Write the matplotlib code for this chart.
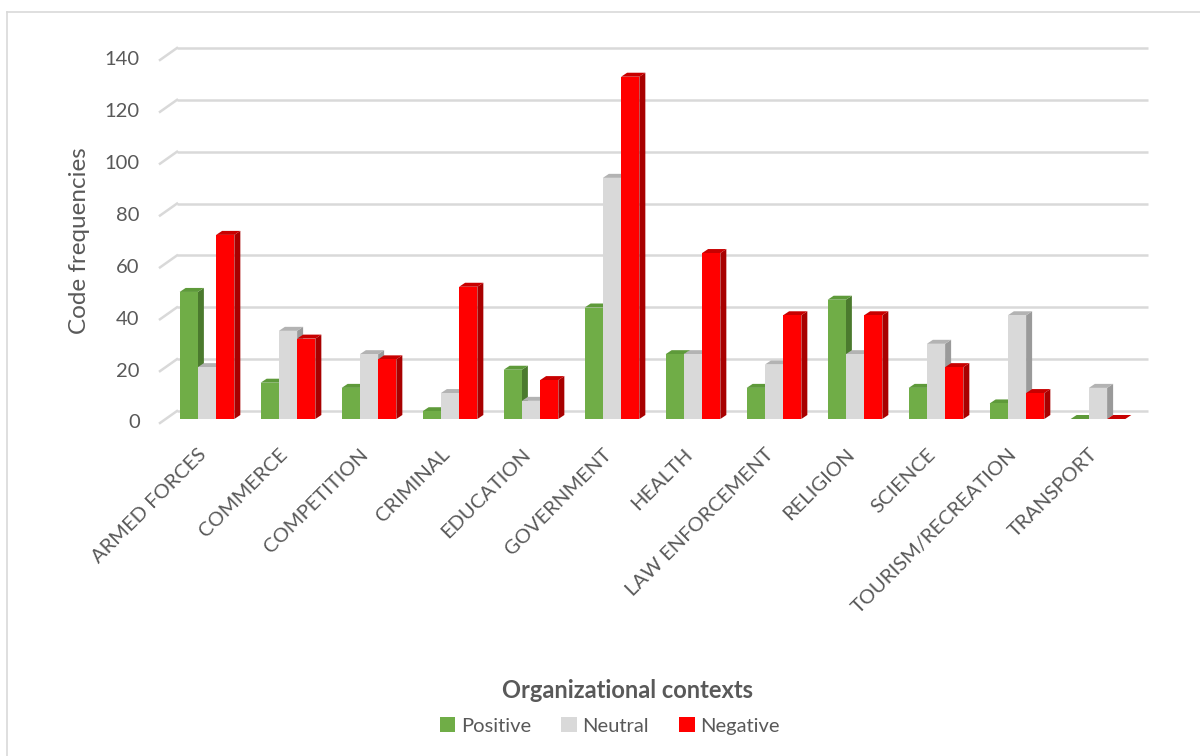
import matplotlib
matplotlib.use("Agg")
import matplotlib.pyplot as plt
from matplotlib.patches import Polygon, Patch
from matplotlib.lines import Line2D

plt.rcParams['font.family'] = ['Lato', 'DejaVu Sans']

# données
categories = ['ARMED FORCES', 'COMMERCE', 'COMPETITION', 'CRIMINAL', 'EDUCATION',
              'GOVERNMENT', 'HEALTH', 'LAW ENFORCEMENT', 'RELIGION', 'SCIENCE',
              'TOURISM/RECREATION', 'TRANSPORT']
positive = [49, 14, 12, 3, 19, 43, 25, 12, 46, 12, 6, 0]
neutral = [20, 34, 25, 10, 7, 93, 25, 21, 25, 29, 40, 12]
negative = [71, 31, 23, 51, 15, 132, 64, 40, 40, 20, 10, 0]
series_names = ['Positive', 'Neutral', 'Negative']
y_ticks = [0, 20, 40, 60, 80, 100, 120, 140]

# couleurs façon Excel 3D : face, côté, dessus
colors = {
    'Positive': ('#70ad47', '#4b7a2e', '#5e9a3a'),
    'Neutral': ('#d9d9d9', '#9a9a9a', '#b3b3b3'),
    'Negative': ('#ff0000', '#a80000', '#c80000'),
}
text_col = '#595959'
grid_col = '#d9d9d9'

W, H = 1200, 756
fig = plt.figure(figsize=(12, 7.56), dpi=100)

# axes placés en pixels : x = index de catégorie, y = valeur
px_left, px_right, px_top, px_bot = 150, 1160, 30, 440
ax = fig.add_axes([px_left / W, 1 - px_bot / H, (px_right - px_left) / W, (px_bot - px_top) / H])
x_c0, x_step = 207, 81.0      # centre du premier groupe, pas entre groupes (px)
base_px, unit_px = 419, 2.593  # base des barres, pixels par unité
ax.set_xlim((px_left - x_c0) / x_step, (px_right - x_c0) / x_step)
ax.set_ylim((base_px - px_bot) / unit_px, (base_px - px_top) / unit_px)
ax.axis('off')

# profondeur 3D
dx = 6 / x_step
dy = 4 / unit_px
back_dy = 8 / unit_px
front_dy = -4 / unit_px
x_front_left = (160 - x_c0) / x_step
x_back_left = (177 - x_c0) / x_step
x_back_right = (1148 - x_c0) / x_step

# grille (mur du fond + diagonales à gauche)
for v in y_ticks:
    ax.plot([x_back_left, x_back_right], [v + back_dy, v + back_dy], color=grid_col, lw=1.8, zorder=0,
            solid_capstyle='butt')
    ax.plot([x_front_left, x_back_left], [v + front_dy, v + back_dy], color=grid_col, lw=1.8, zorder=0)
    ax.text(x_front_left - 0.25, v + front_dy, str(v), ha='right', va='center', fontsize=14.5,
            color=text_col, clip_on=False)

# barres 3D
bw = 0.225
data = [positive, neutral, negative]
for i in range(len(categories)):
    for j, (name, vals) in enumerate(zip(series_names, data)):
        v = vals[i]
        x0 = i + (j - 1.5) * bw
        x1 = x0 + bw
        face, side, top = colors[name]
        z = 2 + i * 10 + j
        ax.add_patch(Polygon([(x1, 0), (x1 + dx, dy), (x1 + dx, v + dy), (x1, v)],
                             closed=True, facecolor=side, edgecolor='none', zorder=z))
        ax.add_patch(Polygon([(x0, v), (x0 + dx, v + dy), (x1 + dx, v + dy), (x1, v)],
                             closed=True, facecolor=top, edgecolor='none', zorder=z))
        if v > 0:
            ax.add_patch(Polygon([(x0, 0), (x1, 0), (x1, v), (x0, v)],
                                 closed=True, facecolor=face, edgecolor='none', zorder=z))

# étiquettes de catégories
for i, lab in enumerate(categories):
    ax.text(i - 0.04, -12.5, lab, rotation=45, rotation_mode='anchor', ha='right', va='center',
            fontsize=14.5, color=text_col, clip_on=False)

fig.text(80 / W, 1 - 241 / H, 'Code frequencies', rotation=90, ha='center', va='center',
         fontsize=17.5, color=text_col)
fig.text(627 / W, 1 - 690 / H, 'Organizational contexts', ha='center', va='center',
         fontsize=17, fontweight='bold', color=text_col)

handles = [Patch(facecolor=colors[n][0], edgecolor='none') for n in series_names]
fig.legend(handles, series_names, loc='center', bbox_to_anchor=(610 / W, 1 - 726 / H), ncol=3,
           frameon=False, fontsize=14.5, handlelength=0.75, handleheight=0.75, handletextpad=0.3,
           columnspacing=1.5, labelcolor=text_col)

# cadre du graphique
fig.add_artist(Line2D([7 / W, 1], [1 - 12 / H, 1 - 12 / H], color=grid_col, lw=1.2))
fig.add_artist(Line2D([7 / W, 7 / W], [0, 1 - 12 / H], color=grid_col, lw=1.2))

fig.savefig('out.png', dpi=100, facecolor='white')
